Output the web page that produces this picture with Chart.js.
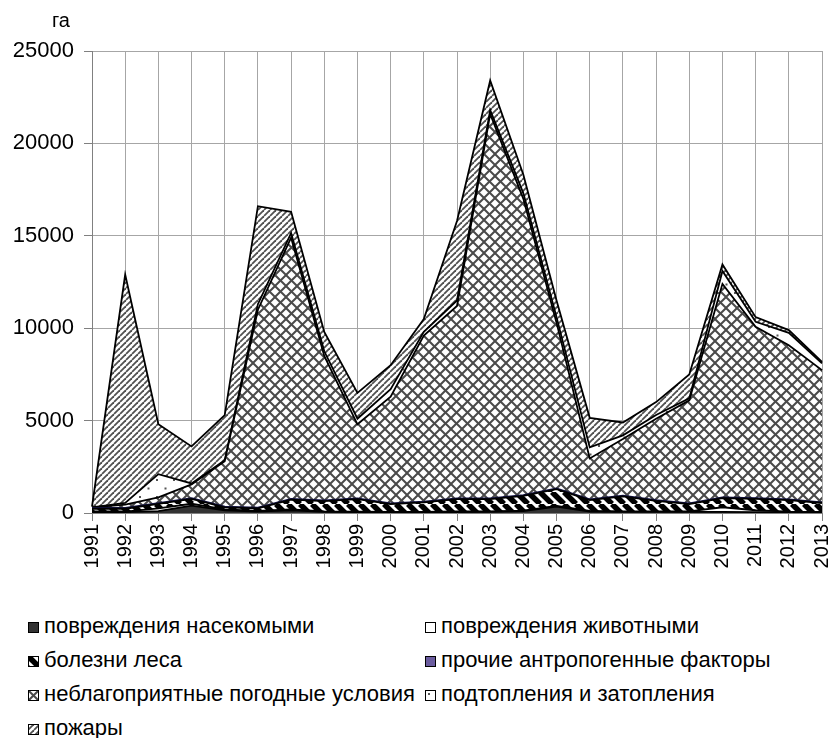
<!DOCTYPE html>
<html>
<head>
<meta charset="utf-8">
<script src="https://cdn.jsdelivr.net/npm/chart.js@4.4.1/dist/chart.umd.min.js"></script>
<style>
  body { margin: 0; background: #fff; font-family: "Liberation Sans", Arial, sans-serif; }
  #wrap { position: relative; width: 831px; height: 738px; }
  #box { position: absolute; left: 0; top: 0; width: 831px; height: 590px; }
  #legend { position: absolute; left: 0; top: 613px; width: 831px; }
  .item { position: absolute; font-size: 22px; color: #000; white-space: nowrap; line-height: 26px; }
  .item canvas { vertical-align: 0px; margin-right: 5px; }
</style>
</head>
<body>
<div id="wrap">
  <div id="box"><canvas id="myChart"></canvas></div>
  <div id="legend"></div>
</div>
<script>
var years = ["1991","1992","1993","1994","1995","1996","1997","1998","1999","2000","2001","2002",
             "2003","2004","2005","2006","2007","2008","2009","2010","2011","2012","2013"];

// площадь погибших насаждений по причинам, га
var insects   = [50, 50, 100, 400, 150, 80, 150, 60, 50, 40, 40, 50, 60, 100, 350, 80, 60, 60, 60, 60, 50, 40, 30];
var animals   = [30, 30, 150, 100, 50, 30, 50, 20, 20, 20, 20, 30, 30, 30, 30, 30, 30, 30, 30, 250, 100, 30, 30];
var disease   = [150, 150, 240, 260, 100, 140, 520, 560, 680, 420, 510, 670, 660, 800, 910, 590, 810, 570, 390, 500, 610, 630, 480];
var human     = [40, 40, 40, 40, 40, 40, 40, 40, 40, 40, 40, 40, 40, 40, 40, 40, 40, 40, 40, 40, 40, 40, 40];
var weather   = [30, 180, 320, 750, 2460, 10710, 14140, 7820, 4010, 5780, 8990, 10410, 20810, 16030, 8970, 2210, 3060, 4400, 5580, 11550, 9270, 8340, 7150];
var flooding  = [10, 100, 1250, 50, 50, 300, 250, 250, 300, 400, 200, 300, 200, 300, 300, 600, 200, 200, 100, 700, 280, 670, 370];
var fires     = [40, 12350, 2700, 2000, 2450, 5300, 1150, 1050, 1400, 1300, 700, 4300, 1600, 1000, 900, 1600, 700, 700, 1300, 350, 250, 150, 80];

var yTicks = [0, 5000, 10000, 15000, 20000, 25000];

// рисунки заливки
function solid(color) { return function (g, s) { g.fillStyle = color; g.fillRect(0, 0, s, s); }; }
function lines(color, w, dir) {
    return function (g, s) {
        g.strokeStyle = color; g.lineWidth = w;
        for (var k = -1; k <= 1; k++) {
            g.beginPath();
            if (dir > 0) { g.moveTo(k * s, s); g.lineTo(k * s + s, 0); }
            else { g.moveTo(k * s, 0); g.lineTo(k * s + s, s); }
            g.stroke();
        }
    };
}
function cross(color, w) {
    var a = lines(color, w, 1), b = lines(color, w, -1);
    return function (g, s) { a(g, s); b(g, s); };
}
function dots(color) {
    return function (g, s) {
        g.fillStyle = color;
        g.fillRect(3, 3, 2, 2);
        g.fillRect(3 + s / 2, 3 + s / 2, 2, 2);
    };
}

var styles = [
    { size: 8,  draw: solid('#333333'), border: '#000' },
    { size: 8,  draw: solid('#ffffff'), border: '#000' },
    { size: 12, draw: lines('#000', 5.5, -1), border: '#000' },
    { size: 8,  draw: solid('#6a5c9e'), border: '#141446' },
    { size: 11, draw: cross('#4a4a4a', 2), border: '#000' },
    { size: 17, draw: dots('#555'), border: '#000' },
    { size: 6,  draw: lines('#505050', 1.8, 1), border: '#000' }
];

function makePattern(st) {
    var c = document.createElement('canvas');
    c.width = c.height = st.size;
    var g = c.getContext('2d');
    g.fillStyle = '#fff';
    g.fillRect(0, 0, st.size, st.size);
    st.draw(g, st.size);
    return g.createPattern(c, 'repeat');
}

var names = ["повреждения насекомыми", "повреждения животными", "болезни леса",
             "прочие антропогенные факторы", "неблагоприятные погодные условия",
             "подтопления и затопления", "пожары"];
var series = [insects, animals, disease, human, weather, flooding, fires];

var datasets = series.map(function (d, i) {
    return {
        label: names[i],
        data: d,
        backgroundColor: makePattern(styles[i]),
        borderColor: styles[i].border,
        borderWidth: 1.8,
        pointRadius: 0,
        tension: 0,
        fill: i === 0 ? 'origin' : '-1'
    };
});

var unitLabel = {
    id: 'unitLabel',
    afterDraw: function (chart) {
        var c = chart.ctx, y = chart.scales.y;
        c.save();
        c.font = '20px "Liberation Sans", Arial, sans-serif';
        c.fillStyle = '#000';
        c.textAlign = 'center';
        c.textBaseline = 'middle';
        c.fillText('га', 61, y.top - 30);
        c.restore();
    }
};

var ctx = document.getElementById('myChart').getContext('2d');
var myChart = new Chart(ctx, {
    type: 'line',
    data: { labels: years, datasets: datasets },
    plugins: [unitLabel],
    options: {
        responsive: true,
        maintainAspectRatio: false,
        animation: false,
        layout: { padding: { top: 51, right: 9, left: 0, bottom: 0 } },
        plugins: { legend: { display: false }, tooltip: { enabled: false } },
        scales: {
            x: {
                offset: false,
                grid: { color: '#a6a6a6', tickLength: 8, tickColor: '#808080' },
                border: { color: '#808080' },
                ticks: {
                    minRotation: 90, maxRotation: 90, autoSkip: false, padding: 3,
                    color: '#000', font: { family: '"Liberation Sans", Arial', size: 20 }
                },
                afterFit: function (s) { s.height = 77; s.paddingLeft = 0; s.paddingRight = 0; }
            },
            y: {
                stacked: true,
                min: 0, max: 25000,
                afterBuildTicks: function (s) { s.ticks = yTicks.map(function (v) { return { value: v }; }); },
                grid: { color: '#a6a6a6', tickLength: 8, tickColor: '#808080' },
                border: { color: '#808080' },
                ticks: {
                    padding: 10, color: '#000',
                    font: { family: '"Liberation Sans", Arial', size: 22 },
                    callback: function (v) { return String(v); }
                },
                afterFit: function (s) { s.width = 92; s.paddingTop = 0; s.paddingBottom = 0; }
            }
        }
    }
});

// легенда в два столбца
var legend = document.getElementById('legend');
names.forEach(function (n, i) {
    var el = document.createElement('div');
    el.className = 'item';
    el.style.left = (i % 2 === 0 ? 28 : 425) + 'px';
    el.style.top = (Math.floor(i / 2) * 34) + 'px';
    var sw = document.createElement('canvas');
    sw.width = sw.height = 11;
    var g = sw.getContext('2d');
    g.fillStyle = makePattern(styles[i]);
    g.fillRect(0, 0, 11, 11);
    g.strokeStyle = '#000';
    g.lineWidth = 1;
    g.strokeRect(0.5, 0.5, 10, 10);
    el.appendChild(sw);
    el.appendChild(document.createTextNode(n));
    legend.appendChild(el);
});
</script>
</body>
</html>
